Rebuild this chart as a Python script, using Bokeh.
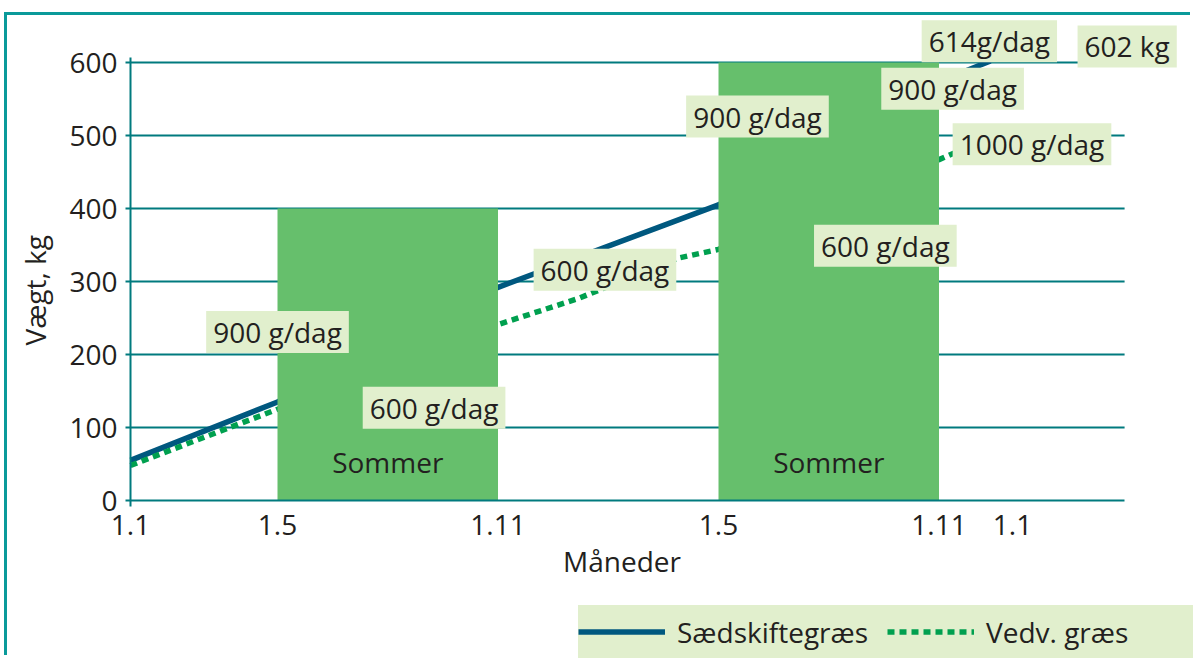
import math
from bokeh.plotting import figure
from bokeh.models import Range1d, FixedTicker, Label, Legend, LegendItem
from bokeh.core.properties import value
from bokeh.embed import file_html
from bokeh.resources import INLINE

# ---- data (x in months from 1 January of year 1, y in kg) ----
months_saed = [0, 4, 10, 16, 22, 23.4]
kg_saed = [55, 135, 292, 405, 574, 602]
months_vedv = [0, 4, 10, 12.2, 14.9, 16, 22, 23.4]
kg_vedv = [48, 125, 241, 277, 332, 344, 467, 497]

summer_start = [4, 16]
summer_end = [10, 22]
summer_top = [400, 600]
summer_labels = ["Sommer", "Sommer"]

tick_months = [0, 4, 10, 16, 22, 24]
tick_labels = ["1.1", "1.5", "1.11", "1.5", "1.11", "1.1"]
y_ticks = [0, 100, 200, 300, 400, 500, 600]

note_texts = ["900 g/dag", "600 g/dag", "600 g/dag", "900 g/dag", "600 g/dag",
              "614g/dag", "900 g/dag", "1000 g/dag", "602 kg"]

# ---- styling / placement ----
FONT = "Open Sans"
TXT = "#231F20"
TEAL = "#007A7E"
FRAME = "#0A9A9A"
BAR = "#66BF6C"
NOTE_BG = "#E1EFCD"
BLUE = "#00587F"
GREEN = "#00A04F"
FS = "28px"

AXIS_X_END = 27.05   # where the category axis and the grid stop
AXIS_Y_END = 607

note_pos = [(4.0, 231), (8.26, 127), (12.91, 316), (17.06, 526), (20.54, 349),
            (23.37, 629), (22.37, 564), (24.53, 488), (27.12, 622)]
ytitle_pos = (-2.6, 288)
xtitle_pos = (AXIS_X_END / 2 - 0.15, 0)

p = figure(width=1186, height=643, output_backend="svg", toolbar_location=None,
           x_range=Range1d(-3.347, 28.925), y_range=Range1d(-216.4, 664.4),
           min_border_left=0, min_border_right=0, min_border_top=0,
           min_border_bottom=0, outline_line_color=None)
p.styles = {"border-top": f"3px solid {FRAME}", "border-left": f"3px solid {FRAME}",
            "margin-top": "12px", "margin-left": "4px"}

# horizontal grid lines, stopping where the axis stops
grid_y = [t for t in y_ticks if t > 0]
p.segment(x0=[0] * len(grid_y), x1=[AXIS_X_END] * len(grid_y), y0=grid_y, y1=grid_y,
          line_color=TEAL, line_width=2)

r_saed = p.line(months_saed, kg_saed, line_color=BLUE, line_width=5.5)
r_vedv = p.line(months_vedv, kg_vedv, line_color=GREEN, line_width=5.5, line_dash="7 5")

p.quad(left=summer_start, right=summer_end, bottom=0, top=summer_top,
       fill_color=BAR, line_color=None)
p.text(x=[(a + b) / 2 for a, b in zip(summer_start, summer_end)], y=[53, 53],
       text=summer_labels, text_font=value(FONT), text_font_size=FS,
       text_align="center", text_baseline="middle", text_color=TXT)

# axis titles
p.text(x=[xtitle_pos[0]], y=[xtitle_pos[1]], text=["Måneder"], y_offset=60,
       text_font=value(FONT), text_font_size=FS, text_align="center",
       text_baseline="middle", text_color=TXT)
p.text(x=[ytitle_pos[0]], y=[ytitle_pos[1]], text=["Vægt, kg"], angle=math.pi / 2,
       text_font=value(FONT), text_font_size=FS, text_align="center",
       text_baseline="middle", text_color=TXT)

for t, (x, y) in zip(note_texts, note_pos):
    p.add_layout(Label(x=x, y=y, text=t, text_font=FONT, text_font_size=FS,
                       text_color=TXT, text_align="center", text_baseline="middle",
                       background_fill_color=NOTE_BG, padding=(7, 2)))

# axes (both crossing at the origin)
p.xgrid.grid_line_color = None
p.ygrid.grid_line_color = None

p.yaxis.fixed_location = 0
p.yaxis.ticker = FixedTicker(ticks=y_ticks)
p.yaxis.bounds = (-8, AXIS_Y_END)
p.yaxis.axis_line_color = TEAL
p.yaxis.axis_line_width = 2
p.yaxis.major_tick_line_color = TEAL
p.yaxis.major_tick_line_width = 2
p.yaxis.major_tick_out = 5
p.yaxis.major_tick_in = 0
p.yaxis.minor_tick_line_color = None
p.yaxis.major_label_standoff = 8

p.xaxis.fixed_location = 0
p.xaxis.ticker = FixedTicker(ticks=tick_months)
p.xaxis.bounds = (0, AXIS_X_END)
p.xaxis.major_label_overrides = {m: l for m, l in zip(tick_months, tick_labels)}
p.xaxis.axis_line_color = TEAL
p.xaxis.axis_line_width = 2
p.xaxis.major_tick_line_color = None
p.xaxis.minor_tick_line_color = None
p.xaxis.major_tick_out = 0
p.xaxis.major_label_standoff = 14

for ax in (p.xaxis, p.yaxis):
    ax.major_label_text_font = FONT
    ax.major_label_text_font_size = FS
    ax.major_label_text_color = TXT

legend = Legend(items=[LegendItem(label="Sædskiftegræs", renderers=[r_saed]),
                       LegendItem(label="Vedv. græs", renderers=[r_vedv])],
                location=(571, 0), orientation="horizontal",
                background_fill_color=NOTE_BG, background_fill_alpha=1,
                border_line_color=None, label_text_font=FONT,
                label_text_font_size=FS, label_text_color=TXT,
                glyph_width=87, glyph_height=53, label_standoff=12, spacing=2,
                label_width=208, padding=0, margin=0)
p.add_layout(legend)

open("out.html", "w").write(file_html(p, INLINE))
